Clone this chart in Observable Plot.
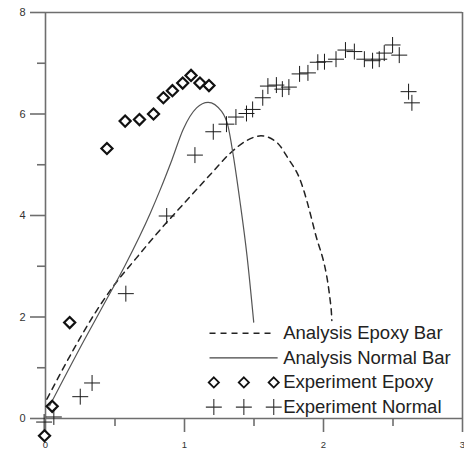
<!DOCTYPE html>
<html>
<head>
<meta charset="utf-8">
<script src="https://cdn.jsdelivr.net/npm/d3@7"></script>
<script src="https://cdn.jsdelivr.net/npm/@observablehq/plot@0.6"></script>
<style>
  html, body { margin: 0; padding: 0; background: #fff; }
  svg { display: block; }
</style>
</head>
<body>
<div id="chart"></div>
<script>
// ---- data ----
const expEpoxyX = [-0.007, 0.048, 0.174, 0.442, 0.573, 0.676, 0.777, 0.848, 0.913, 0.987, 1.047, 1.111, 1.176];
const expEpoxyY = [-0.34, 0.24, 1.89, 5.32, 5.86, 5.89, 6.00, 6.32, 6.46, 6.61, 6.76, 6.61, 6.56];

const expNormalX = [-0.01, 0.06, 0.25, 0.335, 0.578, 0.872, 1.075, 1.207, 1.302, 1.37, 1.446, 1.49, 1.563, 1.60, 1.661, 1.704, 1.751, 1.828, 1.888, 1.959, 2.007, 2.09, 2.158, 2.222, 2.294, 2.353, 2.401, 2.437, 2.497, 2.545, 2.612, 2.636];
const expNormalY = [-0.07, 0.03, 0.43, 0.70, 2.46, 3.99, 5.19, 5.65, 5.80, 5.94, 6.01, 6.09, 6.32, 6.55, 6.57, 6.49, 6.53, 6.79, 6.81, 7.02, 7.03, 7.08, 7.26, 7.23, 7.08, 7.05, 7.08, 7.20, 7.36, 7.16, 6.44, 6.22];

const anaNormalX = [0.03, 0.28, 0.42, 0.573, 0.753, 0.824, 0.91, 0.991, 1.087, 1.17, 1.267, 1.314, 1.35, 1.398, 1.45, 1.498];
const anaNormalY = [0.25, 1.55, 2.25, 3.02, 4.04, 4.50, 5.10, 5.70, 6.12, 6.23, 6.05, 5.75, 5.20, 4.30, 3.20, 1.90];

const anaEpoxyX = [0.01, 0.2, 0.35, 0.5, 0.65, 0.8, 1.0, 1.2, 1.326, 1.45, 1.55, 1.672, 1.744, 1.828, 1.935, 2.055, 2.06];
const anaEpoxyY = [0.38, 1.35, 2.05, 2.65, 3.15, 3.64, 4.25, 4.85, 5.22, 5.48, 5.57, 5.42, 5.13, 4.73, 3.71, 2.16, 1.93];

const yMajorTicks = [0, 2, 4, 6, 8];
const yMinorTicks = [1, 3, 5, 7];
const xMajorTicks = [0, 1, 2, 3];
const xMinorTicks = [0.5, 1.5, 2.5];

const legendLabels = ["Analysis Epoxy Bar", "Analysis Normal Bar", "Experiment Epoxy", "Experiment Normal"];
const legendKinds = ["dashed", "solid", "diamond", "plus"];

// ---- build tables ----
const epoxyPts = expEpoxyX.map((x, i) => ({x, y: expEpoxyY[i]}));
const normalPts = expNormalX.map((x, i) => ({x, y: expNormalY[i]}));
const anaNormal = anaNormalX.map((x, i) => ({x, y: anaNormalY[i]}));
const anaEpoxy = anaEpoxyX.map((x, i) => ({x, y: anaEpoxyY[i]}));

// legend layout in data units
const legRow0 = 1.68, legStep = 0.485, legLineX0 = 1.18, legLineX1 = 1.625, legLineX1b = 1.67, legTextX = 1.71;
const legSymX = [1.211, 1.427, 1.642];
const legend = legendLabels.map((label, i) => ({label, kind: legendKinds[i], y: legRow0 - i * legStep}));
const legDashed = legend.filter(d => d.kind === "dashed").map(d => ({...d, x1: legLineX0, x2: legLineX1}));
const legSolid = legend.filter(d => d.kind === "solid").map(d => ({...d, x1: legLineX0, x2: legLineX1b}));
const legSyms = legend.filter(d => d.kind === "diamond" || d.kind === "plus")
  .flatMap(d => legSymX.map(x => ({x, y: d.y, kind: d.kind})));

const axisColor = "#6e6e6e";
const font = "'Liberation Sans', Arial, sans-serif";

const chart = Plot.plot({
  width: 464,
  height: 455,
  marginLeft: 45,
  marginRight: 2,
  marginTop: 12,
  marginBottom: 37,
  style: {fontFamily: font, background: "#fff"},
  x: {domain: [0, 3]},
  y: {domain: [0, 8]},
  marks: [
    // frame
    Plot.ruleY([8], {stroke: axisColor, strokeWidth: 1.6}),
    Plot.ruleX([3], {stroke: axisColor, strokeWidth: 1.6}),
    Plot.ruleY([0], {stroke: axisColor, strokeWidth: 1.6}),
    Plot.ruleX([0], {stroke: axisColor, strokeWidth: 1.6}),
    // axes
    Plot.axisY(yMajorTicks, {tickSize: 15, tickPadding: 5, fontSize: 11, stroke: axisColor, strokeWidth: 1.6, fill: "#333", label: null, tickFormat: d3.format("d")}),
    Plot.axisY(yMinorTicks, {tickSize: 8, stroke: axisColor, strokeWidth: 1.6, text: null, label: null}),
    Plot.axisX(xMajorTicks, {tickSize: 14, tickPadding: 9, fontSize: 9.5, stroke: axisColor, strokeWidth: 1.6, fill: "#333", label: null, tickFormat: d3.format("d")}),
    Plot.axisX(xMinorTicks, {tickSize: 8, stroke: axisColor, strokeWidth: 1.6, text: null, label: null}),
    // analysis curves
    Plot.line(anaEpoxy, {x: "x", y: "y", stroke: "#222", strokeWidth: 1.5, strokeDasharray: "6,5", curve: "monotone-x"}),
    Plot.line(anaNormal, {x: "x", y: "y", stroke: "#555", strokeWidth: 1.2, curve: "monotone-x"}),
    // experiments
    Plot.dot(normalPts, {x: "x", y: "y", symbol: "plus", r: 5.2, stroke: "#1a1a1a", strokeWidth: 1}),
    Plot.dot(epoxyPts, {x: "x", y: "y", symbol: "diamond2", r: 5, stroke: "#111", strokeWidth: 2.2, fill: "none"}),
    // legend
    Plot.link(legDashed, {x1: "x1", x2: "x2", y1: "y", y2: "y", stroke: "#222", strokeDasharray: "6,5", strokeWidth: 1.4}),
    Plot.link(legSolid, {x1: "x1", x2: "x2", y1: "y", y2: "y", stroke: "#444", strokeWidth: 1.2}),
    Plot.dot(legSyms.filter(d => d.kind === "diamond"), {x: "x", y: "y", symbol: "diamond2", r: 4.6, stroke: "#111", strokeWidth: 1.8, fill: "none"}),
    Plot.dot(legSyms.filter(d => d.kind === "plus"), {x: "x", y: "y", symbol: "plus", r: 5.2, stroke: "#333", strokeWidth: 1.1}),
    Plot.text(legend, {x: () => legTextX, y: "y", text: "label", textAnchor: "start", fontSize: 18.5, fill: "#222", fontFamily: font})
  ]
});
document.getElementById("chart").append(chart);
</script>
</body>
</html>
